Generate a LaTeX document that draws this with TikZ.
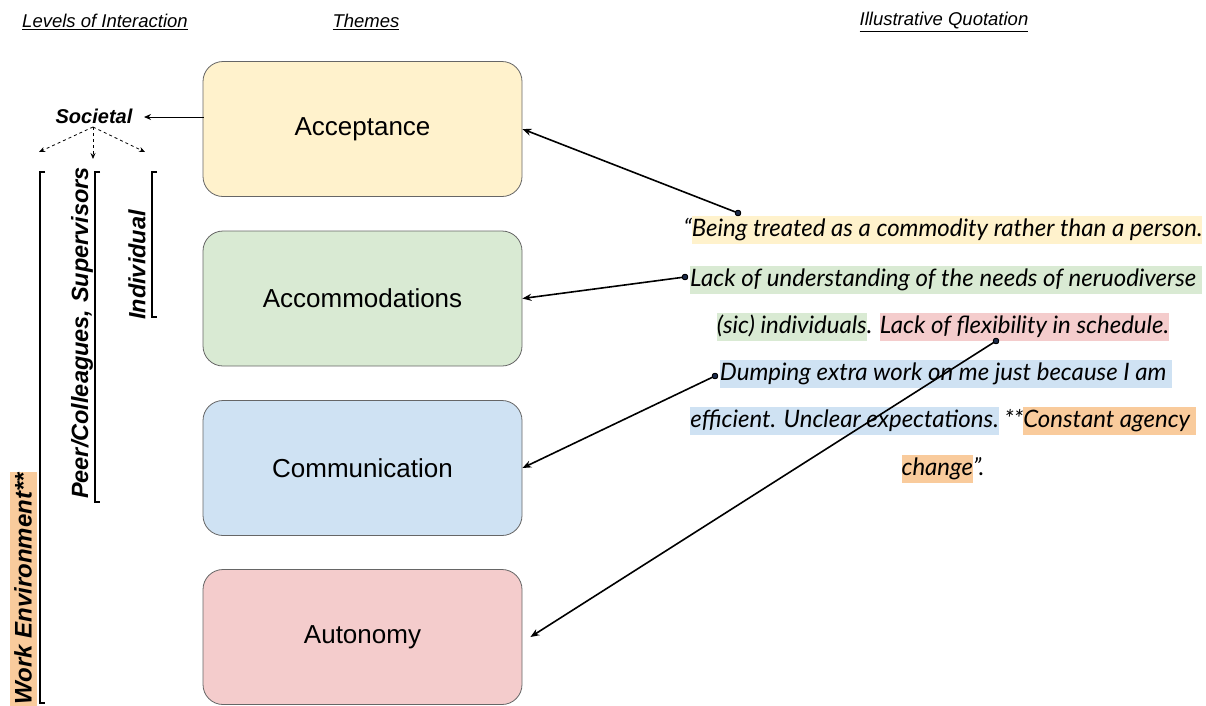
\documentclass[tikz,border=0pt]{standalone}
\usepackage{fontspec}
\setmainfont{Liberation Sans}
\newfontfamily\quotefont{Lato}
\usetikzlibrary{arrows.meta,calc}
\definecolor{cyel}{HTML}{FFF2CC}
\definecolor{cgrn}{HTML}{D9EAD3}
\definecolor{cblu}{HTML}{CFE2F3}
\definecolor{cred}{HTML}{F4CCCC}
\definecolor{corg}{HTML}{F9CB9C}
\definecolor{cbord}{HTML}{666666}
\definecolor{cdot}{HTML}{1C2A4A}
\newcommand{\hlx}[2]{{\setlength{\fboxsep}{0pt}\colorbox{#1}{\rule[-0.3em]{0pt}{1.15em}#2}}}
\begin{document}
\begin{tikzpicture}[x=1pt,y=-1pt,
  theme/.style={draw=cbord, line width=0.8pt, rounded corners=20pt, minimum width=319pt, minimum height=135pt, inner sep=0pt, font=\fontsize{26}{30}\selectfont},
  header/.style={font=\fontsize{18.5}{22}\selectfont\itshape},
  vlabel/.style={rotate=90, font=\fontsize{23.5}{28}\selectfont\bfseries\itshape, inner sep=1pt},
  qline/.style={font=\quotefont\itshape\fontsize{24}{28}\selectfont, inner sep=0pt},
  conn/.style={line width=1.6pt, -{Stealth[length=9pt,width=7pt]}},
  dashconn/.style={dashed, line width=0.8pt, -{Stealth[length=6pt,width=5pt]}},
  bracket/.style={line width=1.3pt},
  qdot/.style={circle, draw=black, fill=cdot, line width=0.8pt, minimum size=5.5pt, inner sep=0pt}
]
\useasboundingbox (0,0) rectangle (1206,705);
% headers
\node[header] (h1) at (105,22) {\underline{Levels of Interaction}};
\node[header] (h2) at (366,22) {\underline{Themes}};
\node[header] (h3) at (944,22) {\underline{Illustrative Quotation}};
% themes
\node[theme, fill=cyel] (acc) at (362.5,129) {Acceptance};
\node[theme, fill=cgrn] (acm) at (362.5,298.5) {Accommodations};
\node[theme, fill=cblu] (com) at (362.5,468) {Communication};
\node[theme, fill=cred] (aut) at (362.5,637) {Autonomy};
% societal
\node[font=\fontsize{20}{24}\selectfont\bfseries\itshape, inner sep=1pt] (soc) at (94,116) {Societal};
\coordinate (accl) at (203.5,117);
\coordinate (socr) at (144,117);
\draw[line width=1pt, -{Stealth[length=7pt,width=6pt]}] (accl) -- (socr);
\coordinate (so) at (93,127);
\coordinate (tl) at (39,152);
\coordinate (tm) at (93,159);
\coordinate (tr) at (145,152);
\draw[dashconn] (so) -- (tl);
\draw[dashconn] (so) -- (tm);
\draw[dashconn] (so) -- (tr);
% vertical labels
\node[vlabel, fill=corg, minimum height=27pt, font=\fontsize{24}{28}\selectfont\bfseries\itshape] (we) at (23,589) {Work Environment**};
\node[vlabel] (pcs) at (82,333) {Peer/Colleagues, Supervisors};
\node[vlabel] (ind) at (137,265) {Individual};
% brackets
\draw[bracket] (45,172) -- (40,172) -- (40,703) -- (45,703);
\draw[bracket] (100,172) -- (95,172) -- (95,502) -- (100,502);
\draw[bracket] (157,172) -- (152,172) -- (152,317) -- (157,317);
% quotation lines
\node[qline] (q1) at (943,230) {“\hlx{cyel}{Being treated as a commodity rather than a person.}};
\node[qline] (q2) at (946,280) {\hlx{cgrn}{Lack of understanding of the needs of neruodiverse }};
\node[qline] (q3) at (943,327) {\hlx{cgrn}{(sic) individuals}. \hlx{cred}{Lack of flexibility in schedule.}};
\node[qline] (q4) at (946,374) {\hlx{cblu}{Dumping extra work on me just because I am }};
\node[qline] (q5) at (943,421) {\hlx{cblu}{efficient. Unclear expectations.} **\hlx{corg}{Constant agency }};
\node[qline] (q6) at (943,469) {\hlx{corg}{change}”.};
% connectors
\node[qdot] (d1) at (738,213) {};
\node[qdot] (d2) at (685,277) {};
\node[qdot] (d3) at (715,376) {};
\node[qdot] (d4) at (996,341) {};
\draw[conn] (d1.center) -- (acc.east);
\draw[conn] (d2.center) -- (acm.east);
\draw[conn] (d3.center) -- (com.east);
\draw[conn] (d4.center) -- ([xshift=8pt]aut.east);
\node[qdot] at (d1) {};
\node[qdot] at (d2) {};
\node[qdot] at (d3) {};
\node[qdot] at (d4) {};
\end{tikzpicture}
\end{document}
